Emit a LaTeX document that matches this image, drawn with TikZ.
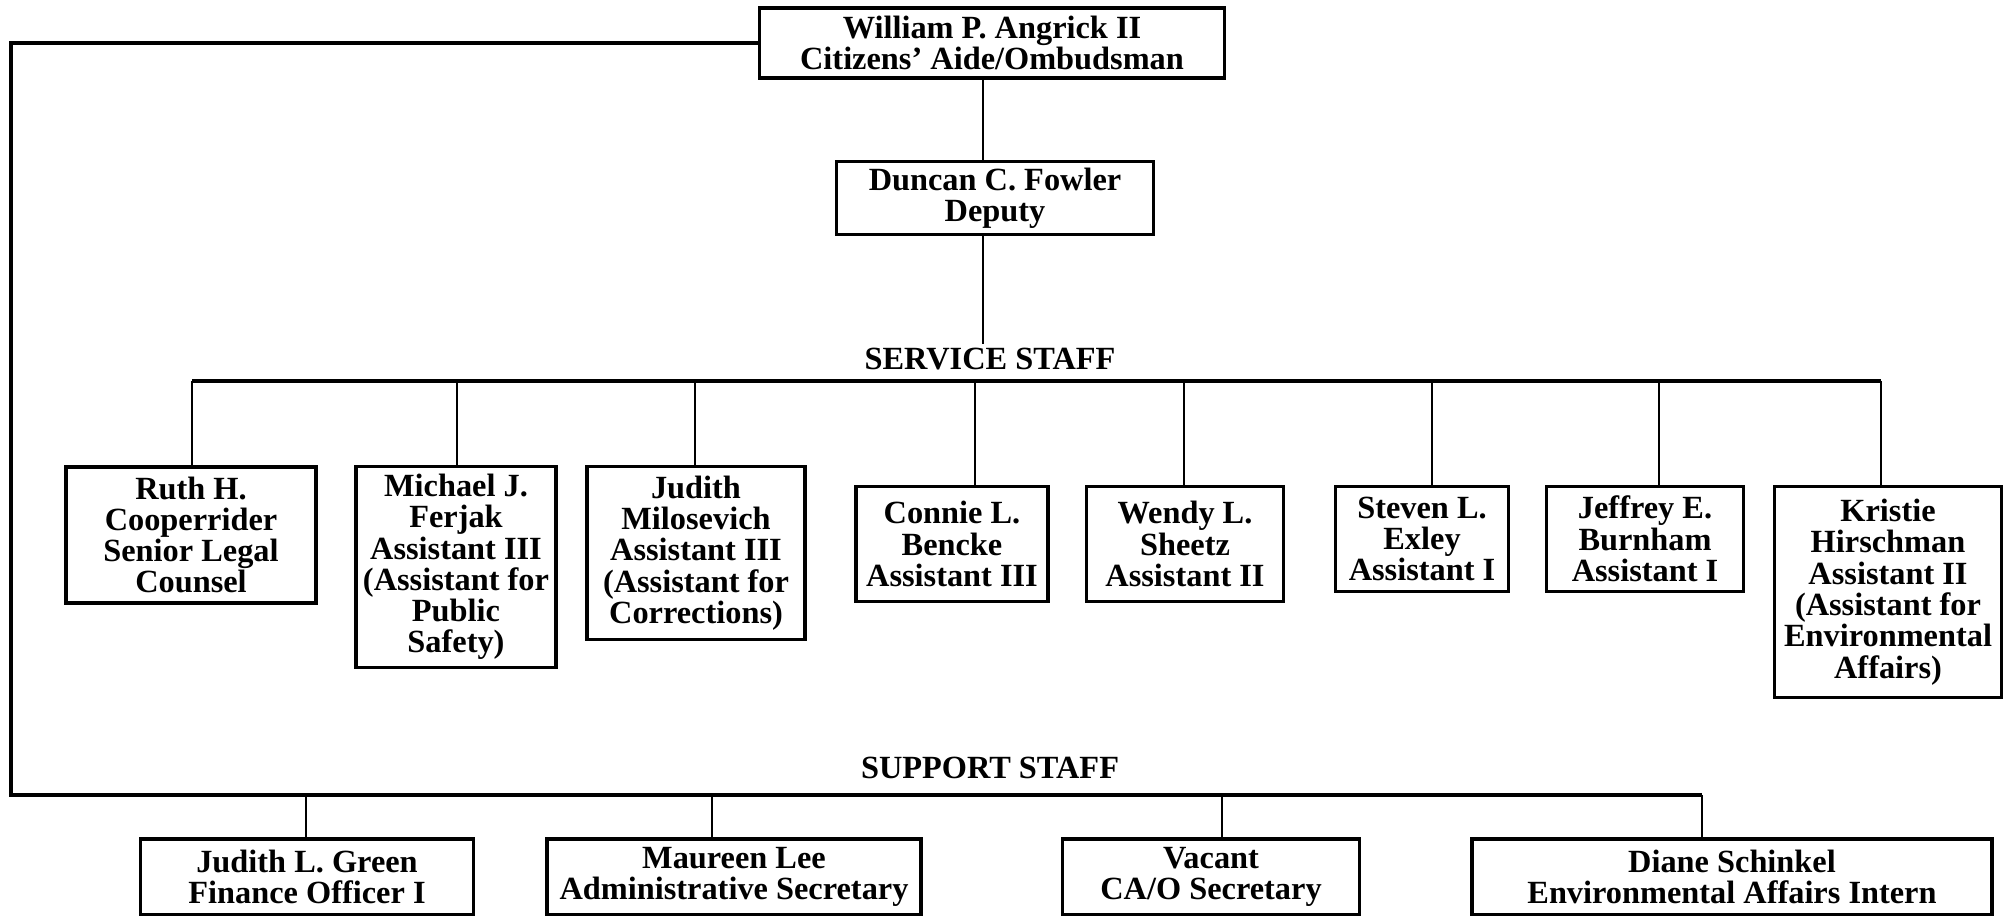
\documentclass[tikz,border=0pt]{standalone}
\usepackage{fontspec}
\setmainfont{Liberation Serif}
\usepackage{tikz}
\newcommand{\chartfont}{\fontsize{9.2}{8.9}\selectfont\bfseries}

\begin{document}
\begin{tikzpicture}[x=0.01cm,y=-0.01cm,
  staffbox/.style={draw,line width=1pt,align=center,inner sep=1pt,font=\chartfont},
  heading/.style={font=\chartfont,inner sep=1pt},
  bus/.style={line width=1pt},
  link/.style={line width=0.7pt}]
\useasboundingbox (0,0) rectangle (2010,916);
\node[staffbox,minimum width=4.65cm,minimum height=0.70cm] (chief) at (992,43) {William P. Angrick II\\Citizens' Aide/Ombudsman};
\node[staffbox,minimum width=3.17cm,minimum height=0.73cm] (deputy) at (995,198) {Duncan C. Fowler\\Deputy};
\node[heading] (svlabel) at (990,359) {SERVICE STAFF};
\node[heading] (splabel) at (990,768) {SUPPORT STAFF};
\node[staffbox,minimum width=2.50cm,minimum height=1.36cm] (ruth) at (191,535) {Ruth H.\\Cooperrider\\Senior Legal\\Counsel};
\node[staffbox,minimum width=2.00cm,minimum height=2.01cm] (michael) at (456,567) {Michael J.\\Ferjak\\Assistant III\\(Assistant for\\Public\\Safety)};
\node[staffbox,minimum width=2.18cm,minimum height=1.73cm] (judithm) at (696,553) {Judith\\Milosevich\\Assistant III\\(Assistant for\\Corrections)};
\node[staffbox,minimum width=1.92cm,minimum height=1.15cm] (connie) at (952,544) {Connie L.\\Bencke\\Assistant III};
\node[staffbox,minimum width=1.97cm,minimum height=1.15cm] (wendy) at (1185,544) {Wendy L.\\Sheetz\\Assistant II};
\node[staffbox,minimum width=1.73cm,minimum height=1.05cm] (steven) at (1422,539) {Steven L.\\Exley\\Assistant I};
\node[staffbox,minimum width=1.97cm,minimum height=1.05cm] (jeffrey) at (1645,539) {Jeffrey E.\\Burnham\\Assistant I};
\node[staffbox,minimum width=2.27cm,minimum height=2.11cm] (kristie) at (1888,592) {Kristie\\Hirschman\\Assistant II\\(Assistant for\\Environmental\\Affairs)};
\node[staffbox,minimum width=3.33cm,minimum height=0.76cm] (green) at (307,877) {Judith L. Green\\Finance Officer I};
\node[staffbox,minimum width=3.74cm,minimum height=0.76cm] (maureen) at (734,877) {Maureen Lee\\Administrative Secretary};
\node[staffbox,minimum width=2.97cm,minimum height=0.76cm] (vacant) at (1211,877) {Vacant\\CA/O Secretary};
\node[staffbox,minimum width=5.20cm,minimum height=0.76cm] (diane) at (1732,877) {Diane Schinkel\\Environmental Affairs Intern};
\coordinate (spine) at (983,0);
\coordinate (svleft) at (192,381);
\coordinate (svright) at (1881,381);
\coordinate (spleft) at (11,795);
\coordinate (spright) at (1702,795);
\draw[link] (spine |- chief.south) -- (spine |- deputy.north);
\draw[link] (spine |- deputy.south) -- (spine |- svlabel.north);
\draw[bus] (svleft) -- (svright);
\foreach \n/\x in {ruth/192,michael/457,judithm/695,connie/975,wendy/1184,steven/1432,jeffrey/1659,kristie/1881}{
  \coordinate (drop) at (\x,381);
  \draw[link] (drop) -- (drop |- \n.north);
}
\draw[bus] (chief.west) -| (spleft) -- (spright);
\foreach \n/\x in {green/306,maureen/712,vacant/1222,diane/1702}{
  \coordinate (drop) at (\x,795);
  \draw[link] (drop) -- (drop |- \n.north);
}
\end{tikzpicture}
\end{document}
